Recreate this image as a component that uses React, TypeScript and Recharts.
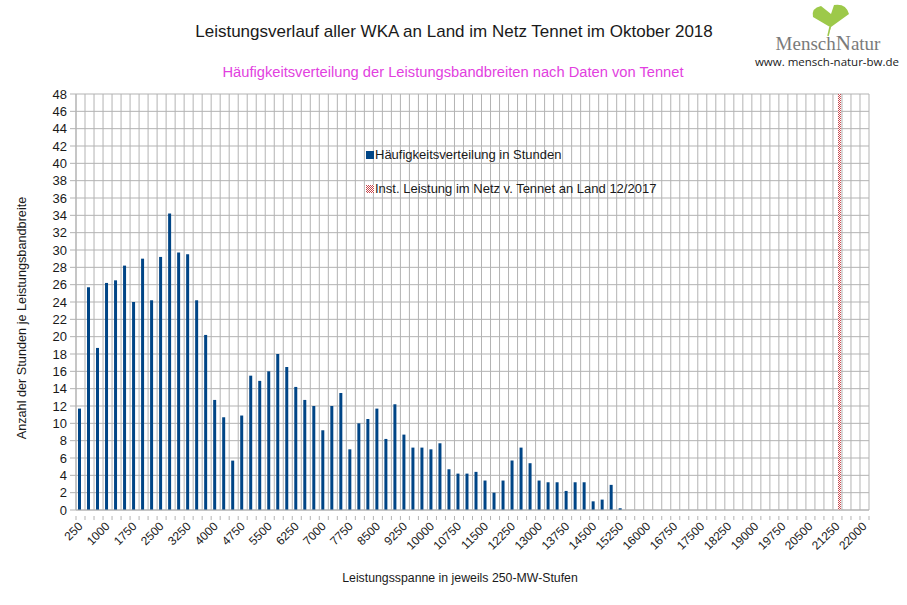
import React from "react";
import { BarChart, Bar, XAxis, YAxis, CartesianGrid, Legend } from "recharts";

const categories: string[] = [
  "250","500","750","1000","1250","1500","1750","2000","2250","2500","2750","3000",
  "3250","3500","3750","4000","4250","4500","4750","5000","5250","5500","5750","6000",
  "6250","6500","6750","7000","7250","7500","7750","8000","8250","8500","8750","9000",
  "9250","9500","9750","10000","10250","10500","10750","11000","11250","11500","11750","12000",
  "12250","12500","12750","13000","13250","13500","13750","14000","14250","14500","14750","15000",
  "15250","15500","15750","16000","16250","16500","16750","17000","17250","17500","17750","18000",
  "18250","18500","18750","19000","19250","19500","19750","20000","20250","20500","20750","21000",
  "21250","21500","21750","22000",
];

const hoursPerBand: number[] = [
  11.7, 25.7, 18.7, 26.2, 26.5, 28.2, 24.0, 29.0, 24.2, 29.2, 34.2, 29.7,
  29.5, 24.2, 20.2, 12.7, 10.7, 5.7, 10.9, 15.5, 14.9, 16.0, 18.0, 16.5,
  14.2, 12.7, 12.0, 9.2, 12.0, 13.5, 7.0, 10.0, 10.5, 11.7, 8.2, 12.2,
  8.7, 7.2, 7.2, 7.0, 7.7, 4.7, 4.2, 4.2, 4.4, 3.4, 2.0, 3.4,
  5.7, 7.2, 5.4, 3.4, 3.2, 3.2, 2.2, 3.2, 3.2, 1.0, 1.2, 2.9,
  0.2, 0, 0, 0, 0, 0, 0, 0, 0, 0, 0, 0,
  0, 0, 0, 0, 0, 0, 0, 0, 0, 0, 0, 0,
  0, 0, 0, 0,
];

const installedCategory = "21250";
const installedMarker = 48;

const yTicks: number[] = [0,2,4,6,8,10,12,14,16,18,20,22,24,26,28,30,32,34,36,38,40,42,44,46,48];

const seriesNames = {
  hours: "Häufigkeitsverteilung in Stunden",
  installed: "Inst. Leistung im Netz v. Tennet an Land 12/2017",
};

const data = categories.map((c, i) => ({
  band: c,
  hours: hoursPerBand[i],
  installed: c === installedCategory ? installedMarker : 0,
}));

const W = 907;
const H = 605;
const MARGIN = { top: 94, right: 38, bottom: 0, left: 0 };
const Y_AXIS_W = 76;
const X_AXIS_H = 95;
const PLOT_W = W - MARGIN.left - MARGIN.right - Y_AXIS_W;
const STEP = PLOT_W / categories.length;

const FONT = "'Liberation Sans', Arial, sans-serif";
const GRID = "#b3b3b3";
const BLUE = "#004586";
const CHECK_RED = "#c8464b";

const XTick = (props: any) => {
  const { x, y, payload, index } = props;
  const showLabel = index % 3 === 0;
  return (
    <g>
      <line x1={x - STEP / 2} x2={x - STEP / 2} y1={y - 2} y2={y + 2} stroke={GRID} />
      {index === categories.length - 1 && (
        <line x1={x + STEP / 2} x2={x + STEP / 2} y1={y - 2} y2={y + 2} stroke={GRID} />
      )}
      {showLabel && (
        <text
          x={x + 3}
          y={y + 9}
          transform={`rotate(-45 ${x + 3} ${y + 9})`}
          textAnchor="end"
          fontSize={12}
          fontFamily={FONT}
          fill="#1a1a1a"
        >
          {payload.value}
        </text>
      )}
    </g>
  );
};

const LegendContent = (props: any) => {
  const { payload } = props;
  return (
    <div style={{ fontFamily: FONT, fontSize: 13, color: "#1a1a1a", textAlign: "left" }}>
      {(payload || []).map((p: any, i: number) => (
        <div key={i} style={{ display: "flex", alignItems: "center", height: 17, marginBottom: i === 0 ? 17 : 0 }}>
          <svg width={8} height={8} style={{ marginRight: 1, flex: "none" }}>
            {p.dataKey === "installed" ? (
              <g>
                <rect width={8} height={8} fill="#fff" />
                {[0, 2, 4, 6].map((yy) =>
                  [0, 2, 4, 6].map((xx) => (
                    <g key={`${xx}-${yy}`}>
                      <rect x={xx} y={yy} width={1} height={1} fill={CHECK_RED} />
                      <rect x={xx + 1} y={yy + 1} width={1} height={1} fill={CHECK_RED} />
                    </g>
                  ))
                )}
              </g>
            ) : (
              <rect width={8} height={8} fill={BLUE} />
            )}
          </svg>
          <span style={{ whiteSpace: "nowrap" }}>{p.value}</span>
        </div>
      ))}
    </div>
  );
};

const gridX = ({ offset }: any) => {
  const arr: number[] = [];
  for (let i = 0; i <= categories.length; i++) arr.push(offset.left + (i * offset.width) / categories.length);
  return arr;
};

export default function App() {
  return (
    <div style={{ position: "absolute", left: 0, top: 0, width: W, height: H, background: "#fff" }}>
      <BarChart
        width={W}
        height={H}
        data={data}
        margin={MARGIN}
        barGap={0}
        barSize={3}
      >
        <defs>
          <pattern id="checks" width="2" height="2" patternUnits="userSpaceOnUse">
            <rect width="2" height="2" fill="#ffffff" />
            <rect width="1" height="1" fill={CHECK_RED} />
            <rect x="1" y="1" width="1" height="1" fill={CHECK_RED} />
          </pattern>
        </defs>
        <CartesianGrid stroke={GRID} verticalCoordinatesGenerator={gridX} />
        <XAxis
          dataKey="band"
          interval={0}
          height={X_AXIS_H}
          tick={<XTick />}
          tickLine={false}
          axisLine={{ stroke: GRID }}
        />
        <YAxis
          width={Y_AXIS_W}
          domain={[0, 48]}
          ticks={yTicks}
          interval={0}
          allowDataOverflow
          tickSize={6}
          tickMargin={3}
          tickLine={{ stroke: GRID }}
          axisLine={{ stroke: GRID }}
          tick={{ fontSize: 13, fontFamily: FONT, fill: "#1a1a1a" }}
        />
        <Legend
          layout="horizontal"
          verticalAlign="middle"
          align="center"
          content={<LegendContent />}
          wrapperStyle={{ position: "absolute", left: 366, top: 146, width: 330, height: 60 }}
        />
        <Bar dataKey="hours" name={seriesNames.hours} fill={BLUE} isAnimationActive={false} />
        <Bar dataKey="installed" name={seriesNames.installed} fill="url(#checks)" isAnimationActive={false} />
      </BarChart>
      <svg
        width={W}
        height={H}
        style={{ position: "absolute", left: 0, top: 0, pointerEvents: "none" }}
      >
        <text x={454} y={37} textAnchor="middle" fontSize={17} fontFamily={FONT} fill="#1a1a1a">
          Leistungsverlauf aller WKA an Land im Netz Tennet im Oktober 2018
        </text>
        <text x={453} y={77} textAnchor="middle" fontSize={14.7} fontFamily={FONT} fill="#e23fe0">
          Häufigkeitsverteilung der Leistungsbandbreiten nach Daten von Tennet
        </text>
        <text
          x={26}
          y={318}
          transform="rotate(-90 26 318)"
          textAnchor="middle"
          fontSize={12.7}
          fontFamily={FONT}
          fill="#1a1a1a"
        >
          Anzahl der Stunden je Leistungsbandbreite
        </text>
        <text x={460} y={582} textAnchor="middle" fontSize={12.3} fontFamily={FONT} fill="#1a1a1a">
          Leistungsspanne in jeweils 250-MW-Stufen
        </text>
        <g>
          <path
            d="M829 34 L830 27 L813 17 Q811 8 821 6 L831 14 L834 5 Q846 3 849 14 L831 27 Z"
            fill="#9dc94a"
          />
          <path d="M830 27 L828 36" stroke="#9dc94a" strokeWidth={1.5} />
          <text x={828} y={50} textAnchor="middle" fontSize={19} fontFamily="'Liberation Serif', 'DejaVu Serif', serif" fill="#7a7a7a">
            Mensch<tspan fontSize={21}>N</tspan>atur
          </text>
          <text x={827} y={66} textAnchor="middle" fontSize={11.5} fontFamily="'Open Sans', sans-serif" fill="#1a1a1a">
            www. mensch-natur-bw.de
          </text>
        </g>
      </svg>
    </div>
  );
}
